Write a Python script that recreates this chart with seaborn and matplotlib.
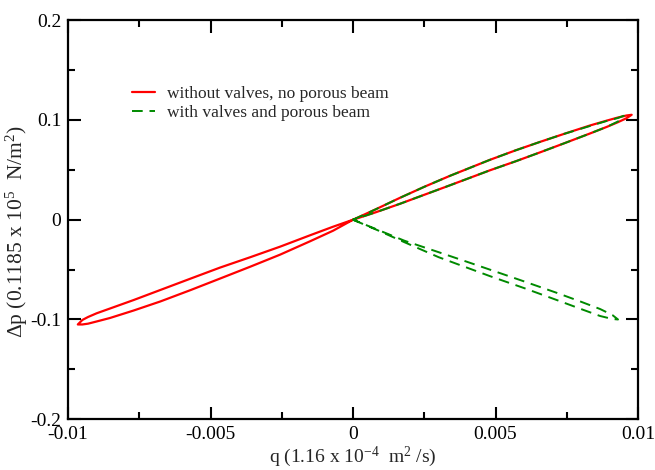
import pandas as pd
import matplotlib.pyplot as plt
import seaborn as sns

# red loop: no valves, no porous beam (origin -> right lobe -> origin -> left lobe -> origin)
red_q = [0, 0.0008, 0.00165, 0.0025, 0.0034, 0.0041, 0.0048, 0.0057, 0.00656, 0.0074,
         0.00832, 0.0089, 0.0093, 0.0096, 0.00978,
         0.0096, 0.0093, 0.0089, 0.00832, 0.0074, 0.00656, 0.0057, 0.0048, 0.0041,
         0.0034, 0.0025, 0.00165, 0.0008, 0,
         -0.0007, -0.0015, -0.00256, -0.0036, -0.00467, -0.0057, -0.00677, -0.0077,
         -0.00853, -0.0090, -0.0093, -0.0095, -0.00966,
         -0.0095, -0.0093, -0.0090, -0.00853, -0.0077, -0.00677, -0.0057, -0.00467,
         -0.0036, -0.00256, -0.0015, -0.0007, 0]
red_p = [0, 0.0105, 0.022, 0.033, 0.044, 0.052, 0.060, 0.0695, 0.078, 0.086,
         0.0945, 0.0993, 0.1025, 0.1045, 0.1052,
         0.1018, 0.0978, 0.093, 0.0865, 0.0765, 0.0675, 0.0585, 0.0495, 0.042,
         0.0345, 0.025, 0.016, 0.0075, 0,
         -0.007, -0.0155, -0.027, -0.0375, -0.048, -0.059, -0.0705, -0.0805,
         -0.089, -0.0938, -0.0975, -0.1005, -0.1050,
         -0.1050, -0.1042, -0.1020, -0.0985, -0.091, -0.082, -0.0705, -0.059,
         -0.047, -0.035, -0.0215, -0.011, 0]

# green loop: with valves and porous beam (upper lobe, then lower lobe)
green_q = [0, 0.0008, 0.00165, 0.0025, 0.0034, 0.0041, 0.0048, 0.0057, 0.00656, 0.0074,
           0.00832, 0.0089, 0.0093, 0.0095,
           0.0093, 0.0089, 0.00832, 0.0074, 0.00656, 0.0057, 0.0048, 0.0041,
           0.0034, 0.0025, 0.00165, 0.0008, 0,
           0.0009, 0.0018, 0.0030, 0.0039, 0.0048, 0.0060, 0.00715, 0.0080, 0.00867,
           0.0091, 0.0093,
           0.0091, 0.00867, 0.0080, 0.00715, 0.0060, 0.0048, 0.0039, 0.0030, 0.0018,
           0.0009, 0]
green_p = [0, 0.0105, 0.022, 0.033, 0.044, 0.052, 0.060, 0.0695, 0.078, 0.086,
           0.094, 0.099, 0.102, 0.1042,
           0.0985, 0.093, 0.0865, 0.0765, 0.0675, 0.0585, 0.0495, 0.042,
           0.0345, 0.025, 0.016, 0.0075, 0,
           -0.0105, -0.021, -0.0325, -0.0412, -0.050, -0.0618, -0.0733, -0.0822, -0.0895,
           -0.0955, -0.100,
           -0.0995, -0.0965, -0.0895, -0.0805, -0.0685, -0.0565, -0.047, -0.0375, -0.0225,
           -0.011, 0]

x_ticks = [-0.01, -0.005, 0, 0.005, 0.01]
x_labels = ['-0.01', '-0.005', '0', '0.005', '0.01']
y_ticks = [-0.2, -0.1, 0, 0.1, 0.2]
y_labels = ['-0.2', '-0.1', '0', '0.1', '0.2']

sns.set_style('ticks')
plt.rcParams['font.family'] = ['Liberation Serif', 'DejaVu Serif']
plt.rcParams['mathtext.fontset'] = 'custom'
plt.rcParams['mathtext.rm'] = 'Liberation Serif'
plt.rcParams['mathtext.it'] = 'Liberation Serif:italic'

red_df = pd.DataFrame({'q': red_q, 'p': red_p})
green_df = pd.DataFrame({'q': green_q, 'p': green_p})

fig = plt.figure(figsize=(6.55, 4.70), dpi=100)
ax = fig.add_axes([0.104, 0.108, 0.870, 0.849])

sns.lineplot(data=red_df, x='q', y='p', sort=False, estimator=None, color='#ff0000',
             linewidth=1.6, ax=ax, label='without valves, no porous beam')
sns.lineplot(data=green_df, x='q', y='p', sort=False, estimator=None, color='#008a00',
             linewidth=1.4, linestyle=(0, (5.5, 3.5)), ax=ax, label='with valves and porous beam')

ax.set_xlim(-0.01, 0.01)
ax.set_ylim(-0.2, 0.2)
ax.set_xticks(x_ticks, x_labels)
ax.set_yticks(y_ticks, y_labels)
ax.set_xticks([-0.0075, -0.0025, 0.0025, 0.0075], minor=True)
ax.set_yticks([-0.15, -0.05, 0.05, 0.15], minor=True)
ax.tick_params(which='both', direction='in', top=True, right=True, labelsize=14, width=1.5, colors='black')
ax.tick_params(which='major', length=9, pad=5)
ax.tick_params(which='minor', length=5)
for s in ax.spines.values():
    s.set_linewidth(1.6)
    s.set_color('black')

ax.set_xlabel(r'q (1.16 x 10$^{-4}$  m$^2$ /s)', fontsize=14, labelpad=1)
ax.set_ylabel(r'$\Delta$p (0.1185 x 10$^5$  N/m$^2$)', fontsize=15.5)
ax.yaxis.set_label_coords(-0.067, 0.47)

ax.legend(loc='upper left', bbox_to_anchor=(0.085, 0.875), frameon=False, fontsize=12.5,
          handlelength=1.3, handletextpad=0.7, labelspacing=0.15)

fig.savefig('out.png', dpi=100)
